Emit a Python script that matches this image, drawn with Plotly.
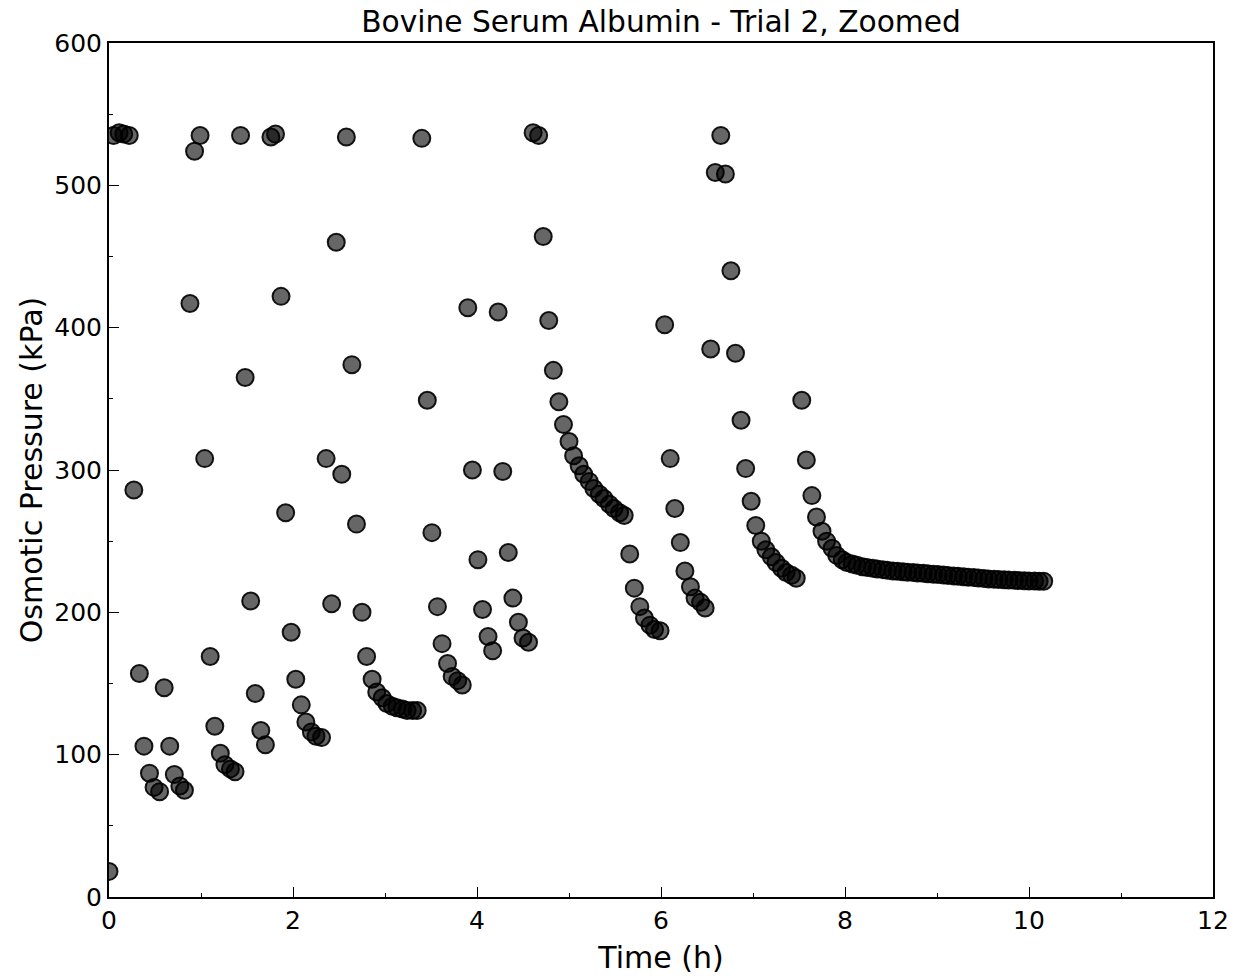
import plotly.graph_objects as go

# Readings: time (h) and osmotic pressure (kPa)
time_h = [
    0.00, 0.05, 0.11, 0.16, 0.22, 0.27, 0.33, 0.38, 0.44, 0.49,
    0.55, 0.60, 0.66, 0.71, 0.77, 0.82, 0.88, 0.93, 0.99, 1.04,
    1.10, 1.15, 1.21, 1.26, 1.32, 1.37, 1.43, 1.48, 1.54, 1.59,
    1.65, 1.70, 1.76, 1.81, 1.87, 1.92, 1.98, 2.03, 2.09, 2.14,
    2.20, 2.25, 2.31, 2.36, 2.42, 2.47, 2.53, 2.58, 2.64, 2.69,
    2.75, 2.80, 2.86, 2.91, 2.97, 3.02, 3.08, 3.13, 3.19, 3.24,
    3.30, 3.35, 3.40, 3.46, 3.51, 3.57, 3.62, 3.68, 3.73, 3.79,
    3.84, 3.90, 3.95, 4.01, 4.06, 4.12, 4.17, 4.23, 4.28, 4.34,
    4.39, 4.45, 4.50, 4.56, 4.61, 4.67, 4.72, 4.78, 4.83, 4.89,
    4.94, 5.00, 5.05, 5.11, 5.16, 5.22, 5.27, 5.33, 5.38, 5.44,
    5.49, 5.55, 5.60, 5.66, 5.71, 5.77, 5.82, 5.88, 5.93, 5.99,
    6.04, 6.10, 6.15, 6.21, 6.26, 6.32, 6.37, 6.43, 6.48, 6.54,
    6.59, 6.65, 6.70, 6.76, 6.81, 6.87, 6.92, 6.98, 7.03, 7.09,
    7.14, 7.20, 7.25, 7.31, 7.36, 7.42, 7.47, 7.53, 7.58, 7.64,
    7.69, 7.75, 7.80, 7.86, 7.91, 7.97, 8.02, 8.08, 8.13, 8.19,
    8.24, 8.30, 8.35, 8.41, 8.46, 8.52, 8.57, 8.63, 8.68, 8.74,
    8.79, 8.85, 8.90, 8.96, 9.01, 9.07, 9.12, 9.18, 9.23, 9.29,
    9.34, 9.40, 9.45, 9.51, 9.56, 9.62, 9.67, 9.73, 9.78, 9.84,
    9.89, 9.95, 10.00, 10.06, 10.11, 10.16,
]

pressure_kpa = [
    18, 535, 537, 536, 535, 286, 157, 106, 87, 77,
    74, 147, 106, 86, 78, 75, 417, 524, 535, 308,
    169, 120, 101, 93, 90, 88, 535, 365, 208, 143,
    117, 107, 534, 536, 422, 270, 186, 153, 135, 123,
    116, 113, 112, 308, 206, 460, 297, 534, 374, 262,
    200, 169, 153, 144, 140, 136, 134, 133, 132, 131,
    131, 131, 533, 349, 256, 204, 178, 164, 155, 152,
    149, 414, 300, 237, 202, 183, 173, 411, 299, 242,
    210, 193, 182, 179, 537, 535, 464, 405, 370, 348,
    332, 320, 310, 303, 297, 292, 287, 283, 280, 276,
    273, 270, 268, 241, 217, 204, 196, 191, 188, 187,
    402, 308, 273, 249, 229, 218, 210, 207, 203, 385,
    509, 535, 508, 440, 382, 335, 301, 278, 261, 250,
    244, 239, 235, 231, 228, 226, 224, 349, 307, 282,
    267, 257, 250, 245, 240, 237, 235, 234, 233, 232,
    231.5, 231, 230.5, 230, 229.5, 229, 228.8, 228.5, 228.2, 228,
    227.7, 227.4, 227.1, 226.8, 226.5, 226.2, 225.9, 225.6, 225.3, 225,
    224.7, 224.4, 224.1, 223.8, 223.5, 223.3, 223.1, 222.9, 222.7, 222.5,
    222.3, 222.2, 222.1, 222, 221.9, 221.8,
]

font = 'DejaVu Sans'

fig = go.Figure()

fig.add_trace(
    go.Scatter(
        x=time_h,
        y=pressure_kpa,
        mode='markers',
        marker=dict(size=17, color='rgba(0,0,0,0.6)',
                    line=dict(color='rgba(0,0,0,0.9)', width=2)),
        showlegend=False
        )
    )

fig.update_xaxes(
    range=[0, 12], dtick=2, tick0=0,
    ticks='inside', ticklen=10, tickwidth=1, tickcolor='black',
    minor=dict(dtick=1, ticks='inside', ticklen=4, tickcolor='black'),
    showline=True, linewidth=2, linecolor='black', mirror=True,
    showgrid=False, zeroline=False,
    tickfont=dict(size=25, color='black'),
    title=dict(text='Time (h)', font=dict(size=30, color='black'), standoff=13)
    )

fig.update_yaxes(
    range=[0, 600], dtick=100, tick0=0,
    ticks='inside', ticklen=10, tickwidth=1, tickcolor='black',
    minor=dict(dtick=50, ticks='inside', ticklen=4, tickcolor='black'),
    showline=True, linewidth=2, linecolor='black', mirror=True,
    showgrid=False, zeroline=False,
    tickfont=dict(size=25, color='black'),
    title=dict(text='Osmotic Pressure (kPa)', font=dict(size=30, color='black'),
               standoff=3)
    )

# the page body adds an 8 px offset, so margins are shifted to compensate
fig.update_layout(
    width=1239, height=978,
    margin=dict(l=101, r=34, t=35, b=89),
    paper_bgcolor='white', plot_bgcolor='white',
    font=dict(family=font, color='black'),
    title=dict(text='Bovine Serum Albumin - Trial 2, Zoomed',
               font=dict(size=29.7, color='black'),
               x=0.5, xref='paper', xanchor='center',
               y=1 - 14 / 978, yref='container', yanchor='middle')
    )

fig.write_html('out.html')
